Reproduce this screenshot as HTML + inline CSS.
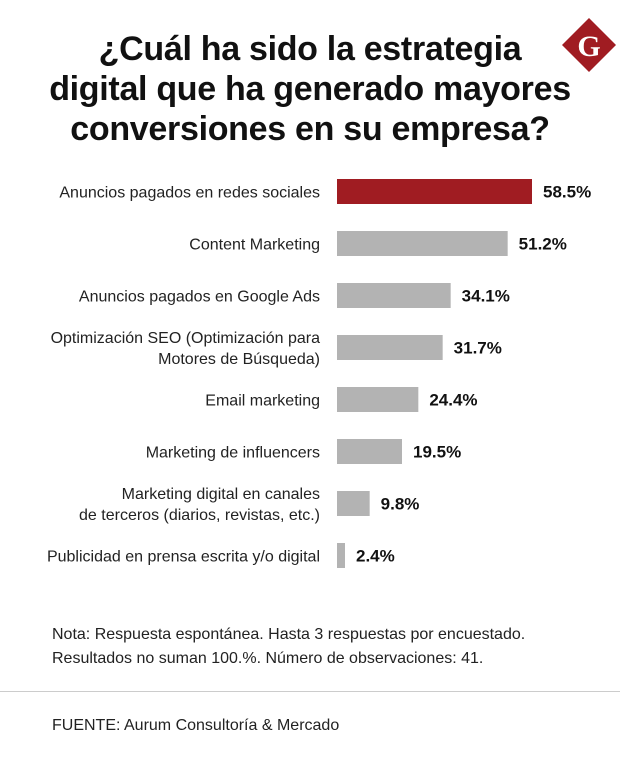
<!DOCTYPE html>
<html><head><meta charset="utf-8"><style>
body{margin:0;width:620px;height:773px;background:#fff;font-family:"Liberation Sans",sans-serif;position:relative;overflow:hidden;color:#111}
#title{position:absolute;left:0;width:620px;top:29px;text-align:center;font-weight:bold;font-size:34px;line-height:40px;letter-spacing:-0.3px}
.note{position:absolute;left:52px;font-size:16px;color:#222}
</style></head><body>
<div id="title">¿Cuál ha sido la estrategia<br>digital que ha generado mayores<br>conversiones en su empresa?</div>
<svg style="position:absolute;left:560px;top:16px" width="58" height="58" viewBox="0 0 58 58">
<polygon points="29,2 56,29 29,56 2,29" fill="#a01c22"/>
<text x="29" y="40" text-anchor="middle" font-family="Liberation Serif,serif" font-weight="bold" font-size="30" fill="#fff">G</text>
</svg>
<svg id="chart" style="position:absolute;left:0;top:0" width="620" height="600"></svg>
<div class="note" style="top:626px">Nota: Respuesta espontánea. Hasta 3 respuestas por encuestado.</div>
<div class="note" style="top:650px">Resultados no suman 100.%. Número de observaciones: 41.</div>
<div style="position:absolute;left:0;top:691px;width:620px;height:1px;background:#ccc"></div>
<div class="note" style="top:717px">FUENTE: Aurum Consultoría &amp; Mercado</div>
<script>
const categories=[["Anuncios pagados en redes sociales"],["Content Marketing"],["Anuncios pagados en Google Ads"],["Optimización SEO (Optimización para","Motores de Búsqueda)"],["Email marketing"],["Marketing de influencers"],["Marketing digital en canales","de terceros (diarios, revistas, etc.)"],["Publicidad en prensa escrita y/o digital"]];
const values=[58.5,51.2,34.1,31.7,24.4,19.5,9.8,2.4];
const valueLabels=["58.5%","51.2%","34.1%","31.7%","24.4%","19.5%","9.8%","2.4%"];
const svg=document.getElementById('chart');
const NS='http://www.w3.org/2000/svg';
const x0=337,pxPer=195/58.5,y0=179,step=52,bh=25;
const xs=v=>v*pxPer;
const ys=i=>y0+i*step;
values.forEach((v,i)=>{
  const r=document.createElementNS(NS,'rect');
  
  
  r.setAttribute('x',x0);r.setAttribute('y',ys(i));
  r.setAttribute('width',xs(v));r.setAttribute('height',bh);
  r.setAttribute('fill',i===0?'#a01c22':'#b3b3b3');
  svg.appendChild(r);
  const t=document.createElementNS(NS,'text');
  
  
  t.setAttribute('x',x0+xs(v)+11);t.setAttribute('y',ys(i)+bh/2+6);
  t.setAttribute('font-size','17');t.setAttribute('font-weight','bold');t.setAttribute('fill','#111');
  t.textContent=valueLabels[i];svg.appendChild(t);
  const lines=categories[i];
  lines.forEach((ln,j)=>{
    const c=document.createElementNS(NS,'text');
    
    
    c.setAttribute('x',320);
    c.setAttribute('y',ys(i)+bh/2+6+(j-(lines.length-1)/2)*21);
    c.setAttribute('text-anchor','end');c.setAttribute('font-size','16');c.setAttribute('fill','#222');
    c.textContent=ln;svg.appendChild(c);
  });
});
</script>
</body></html>
